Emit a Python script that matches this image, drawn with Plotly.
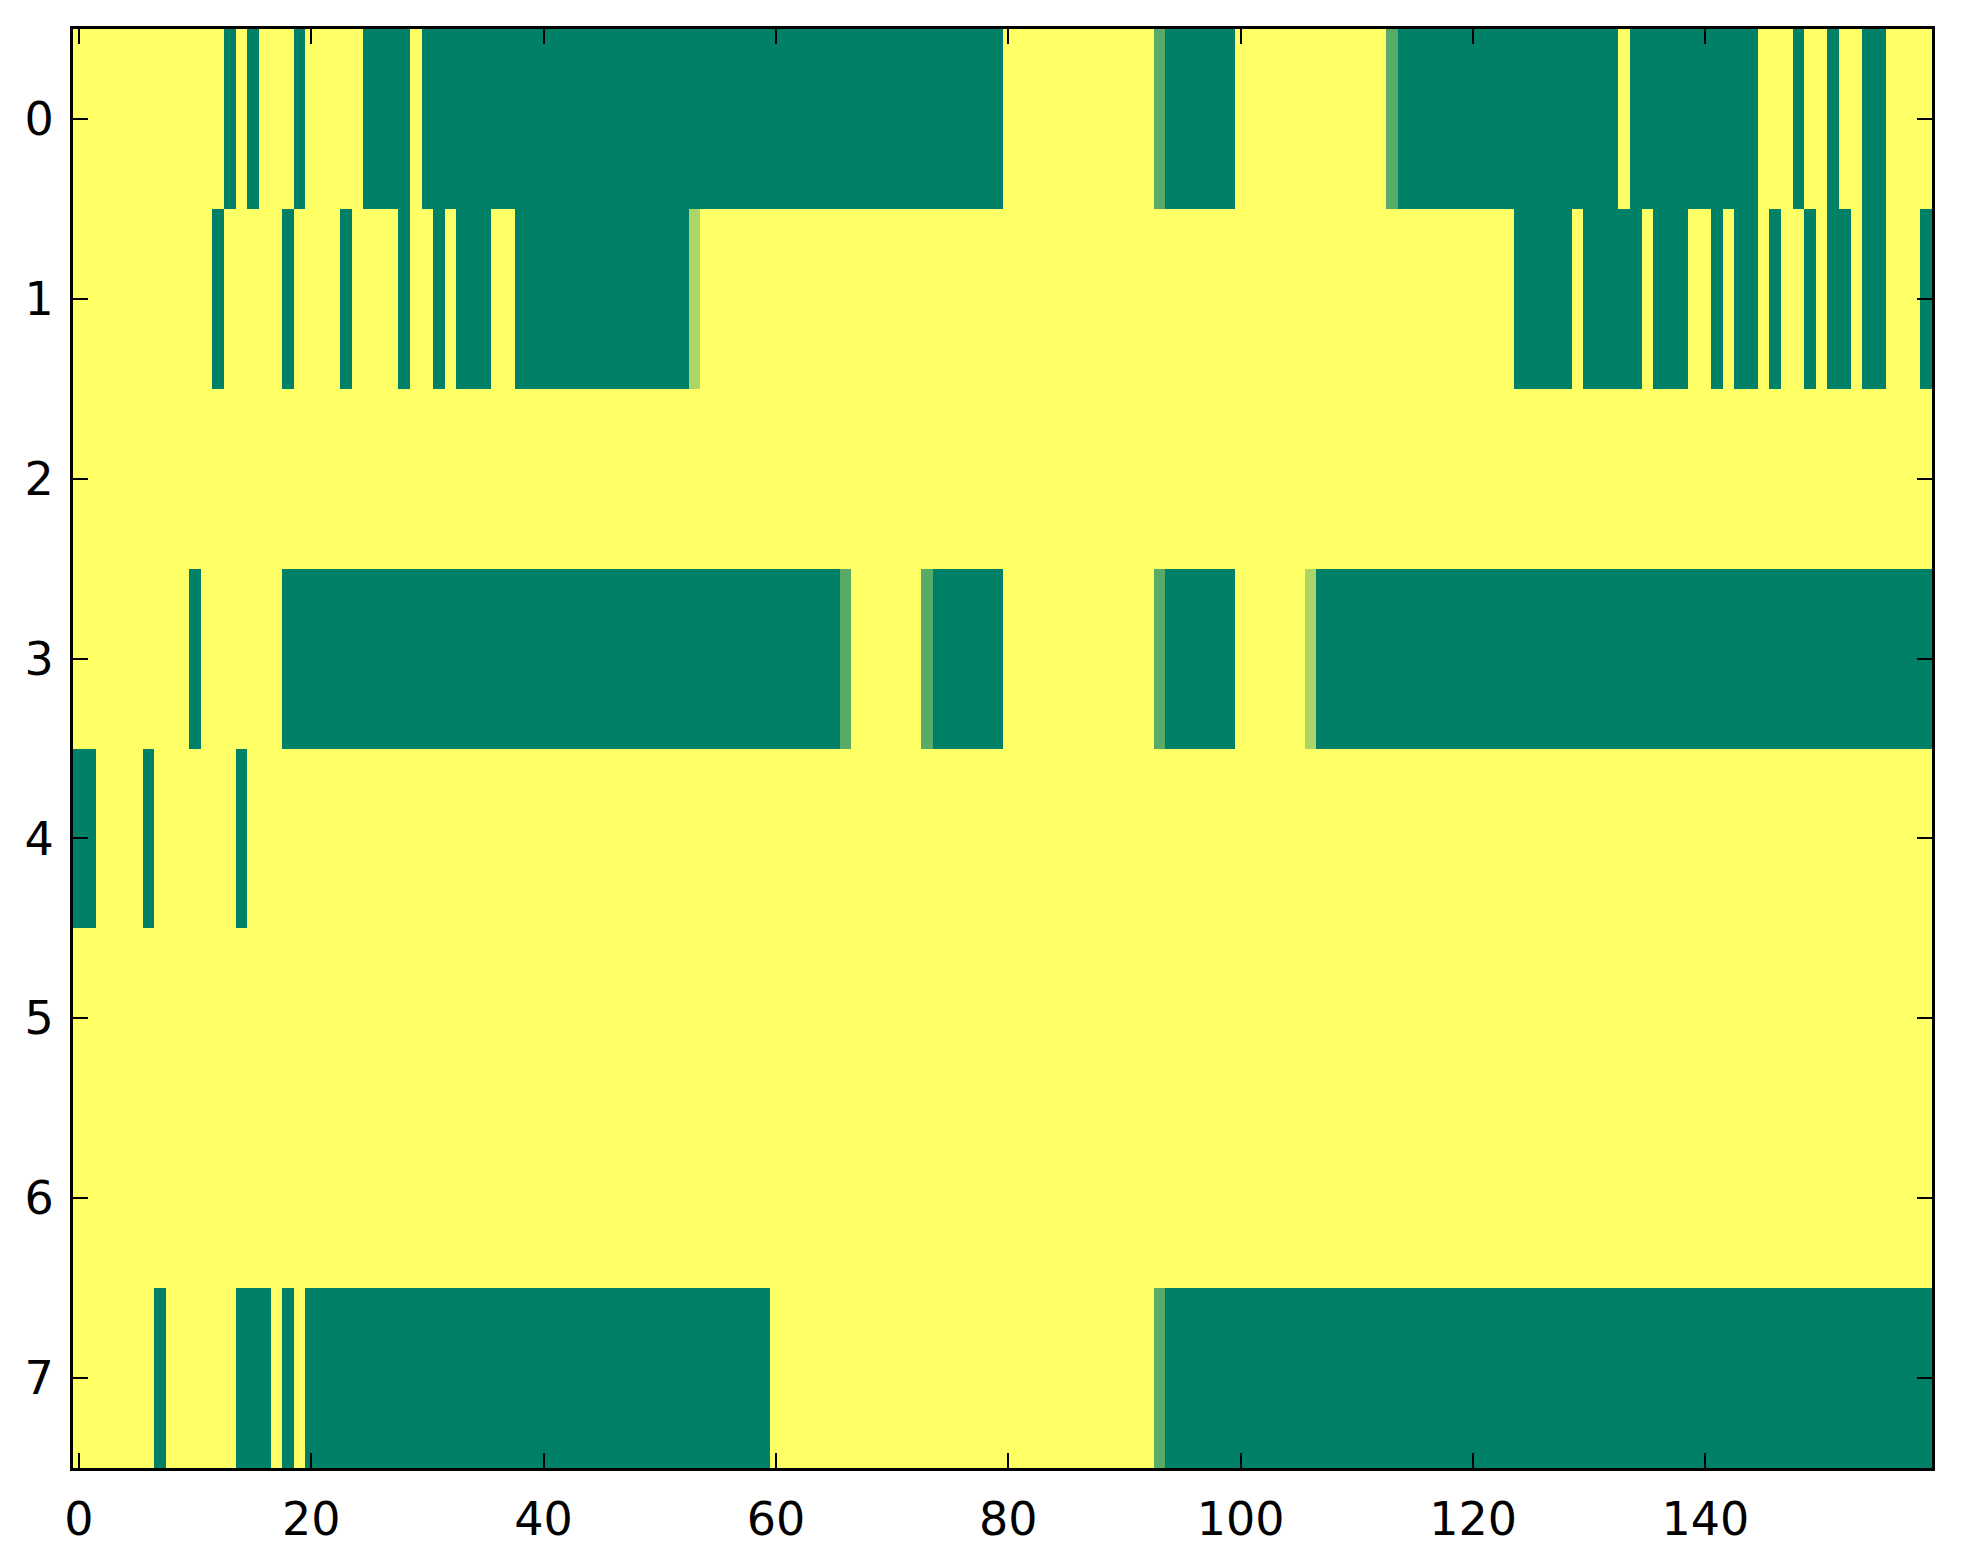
import plotly.graph_objects as go

# 8 rows x 160 columns, 0 = green end of "summer", 1 = yellow end
row0 = [1, 1, 1, 1, 1, 1, 1, 1, 1, 1, 1, 1, 1, 0, 1, 0, 1, 1, 1, 0,
        1, 1, 1, 1, 1, 0, 0, 0, 0, 1, 0, 0, 0, 0, 0, 0, 0, 0, 0, 0,
        0, 0, 0, 0, 0, 0, 0, 0, 0, 0, 0, 0, 0, 0, 0, 0, 0, 0, 0, 0,
        0, 0, 0, 0, 0, 0, 0, 0, 0, 0, 0, 0, 0, 0, 0, 0, 0, 0, 0, 0,
        1, 1, 1, 1, 1, 1, 1, 1, 1, 1, 1, 1, 1, 0.34, 0, 0, 0, 0, 0, 0,
        1, 1, 1, 1, 1, 1, 1, 1, 1, 1, 1, 1, 1, 0.34, 0, 0, 0, 0, 0, 0,
        0, 0, 0, 0, 0, 0, 0, 0, 0, 0, 0, 0, 0, 1, 0, 0, 0, 0, 0, 0,
        0, 0, 0, 0, 0, 1, 1, 1, 0, 1, 1, 0, 1, 1, 0, 0, 1, 1, 1, 1]
row1 = [1, 1, 1, 1, 1, 1, 1, 1, 1, 1, 1, 1, 0, 1, 1, 1, 1, 1, 0, 1,
        1, 1, 1, 0, 1, 1, 1, 1, 0, 1, 1, 0, 1, 0, 0, 0, 1, 1, 0, 0,
        0, 0, 0, 0, 0, 0, 0, 0, 0, 0, 0, 0, 0, 0.67, 1, 1, 1, 1, 1, 1,
        1, 1, 1, 1, 1, 1, 1, 1, 1, 1, 1, 1, 1, 1, 1, 1, 1, 1, 1, 1,
        1, 1, 1, 1, 1, 1, 1, 1, 1, 1, 1, 1, 1, 1, 1, 1, 1, 1, 1, 1,
        1, 1, 1, 1, 1, 1, 1, 1, 1, 1, 1, 1, 1, 1, 1, 1, 1, 1, 1, 1,
        1, 1, 1, 1, 0, 0, 0, 0, 0, 1, 0, 0, 0, 0, 0, 1, 0, 0, 0, 1,
        1, 0, 1, 0, 0, 1, 0, 1, 1, 0, 1, 0, 0, 1, 0, 0, 1, 1, 1, 0]
row2 = [1, 1, 1, 1, 1, 1, 1, 1, 1, 1, 1, 1, 1, 1, 1, 1, 1, 1, 1, 1,
        1, 1, 1, 1, 1, 1, 1, 1, 1, 1, 1, 1, 1, 1, 1, 1, 1, 1, 1, 1,
        1, 1, 1, 1, 1, 1, 1, 1, 1, 1, 1, 1, 1, 1, 1, 1, 1, 1, 1, 1,
        1, 1, 1, 1, 1, 1, 1, 1, 1, 1, 1, 1, 1, 1, 1, 1, 1, 1, 1, 1,
        1, 1, 1, 1, 1, 1, 1, 1, 1, 1, 1, 1, 1, 1, 1, 1, 1, 1, 1, 1,
        1, 1, 1, 1, 1, 1, 1, 1, 1, 1, 1, 1, 1, 1, 1, 1, 1, 1, 1, 1,
        1, 1, 1, 1, 1, 1, 1, 1, 1, 1, 1, 1, 1, 1, 1, 1, 1, 1, 1, 1,
        1, 1, 1, 1, 1, 1, 1, 1, 1, 1, 1, 1, 1, 1, 1, 1, 1, 1, 1, 1]
row3 = [1, 1, 1, 1, 1, 1, 1, 1, 1, 1, 0, 1, 1, 1, 1, 1, 1, 1, 0, 0,
        0, 0, 0, 0, 0, 0, 0, 0, 0, 0, 0, 0, 0, 0, 0, 0, 0, 0, 0, 0,
        0, 0, 0, 0, 0, 0, 0, 0, 0, 0, 0, 0, 0, 0, 0, 0, 0, 0, 0, 0,
        0, 0, 0, 0, 0, 0, 0.34, 1, 1, 1, 1, 1, 1, 0.34, 0, 0, 0, 0, 0, 0,
        1, 1, 1, 1, 1, 1, 1, 1, 1, 1, 1, 1, 1, 0.34, 0, 0, 0, 0, 0, 0,
        1, 1, 1, 1, 1, 1, 0.67, 0, 0, 0, 0, 0, 0, 0, 0, 0, 0, 0, 0, 0,
        0, 0, 0, 0, 0, 0, 0, 0, 0, 0, 0, 0, 0, 0, 0, 0, 0, 0, 0, 0,
        0, 0, 0, 0, 0, 0, 0, 0, 0, 0, 0, 0, 0, 0, 0, 0, 0, 0, 0, 0]
row4 = [0, 0, 1, 1, 1, 1, 0, 1, 1, 1, 1, 1, 1, 1, 0, 1, 1, 1, 1, 1,
        1, 1, 1, 1, 1, 1, 1, 1, 1, 1, 1, 1, 1, 1, 1, 1, 1, 1, 1, 1,
        1, 1, 1, 1, 1, 1, 1, 1, 1, 1, 1, 1, 1, 1, 1, 1, 1, 1, 1, 1,
        1, 1, 1, 1, 1, 1, 1, 1, 1, 1, 1, 1, 1, 1, 1, 1, 1, 1, 1, 1,
        1, 1, 1, 1, 1, 1, 1, 1, 1, 1, 1, 1, 1, 1, 1, 1, 1, 1, 1, 1,
        1, 1, 1, 1, 1, 1, 1, 1, 1, 1, 1, 1, 1, 1, 1, 1, 1, 1, 1, 1,
        1, 1, 1, 1, 1, 1, 1, 1, 1, 1, 1, 1, 1, 1, 1, 1, 1, 1, 1, 1,
        1, 1, 1, 1, 1, 1, 1, 1, 1, 1, 1, 1, 1, 1, 1, 1, 1, 1, 1, 1]
row5 = [1, 1, 1, 1, 1, 1, 1, 1, 1, 1, 1, 1, 1, 1, 1, 1, 1, 1, 1, 1,
        1, 1, 1, 1, 1, 1, 1, 1, 1, 1, 1, 1, 1, 1, 1, 1, 1, 1, 1, 1,
        1, 1, 1, 1, 1, 1, 1, 1, 1, 1, 1, 1, 1, 1, 1, 1, 1, 1, 1, 1,
        1, 1, 1, 1, 1, 1, 1, 1, 1, 1, 1, 1, 1, 1, 1, 1, 1, 1, 1, 1,
        1, 1, 1, 1, 1, 1, 1, 1, 1, 1, 1, 1, 1, 1, 1, 1, 1, 1, 1, 1,
        1, 1, 1, 1, 1, 1, 1, 1, 1, 1, 1, 1, 1, 1, 1, 1, 1, 1, 1, 1,
        1, 1, 1, 1, 1, 1, 1, 1, 1, 1, 1, 1, 1, 1, 1, 1, 1, 1, 1, 1,
        1, 1, 1, 1, 1, 1, 1, 1, 1, 1, 1, 1, 1, 1, 1, 1, 1, 1, 1, 1]
row6 = [1, 1, 1, 1, 1, 1, 1, 1, 1, 1, 1, 1, 1, 1, 1, 1, 1, 1, 1, 1,
        1, 1, 1, 1, 1, 1, 1, 1, 1, 1, 1, 1, 1, 1, 1, 1, 1, 1, 1, 1,
        1, 1, 1, 1, 1, 1, 1, 1, 1, 1, 1, 1, 1, 1, 1, 1, 1, 1, 1, 1,
        1, 1, 1, 1, 1, 1, 1, 1, 1, 1, 1, 1, 1, 1, 1, 1, 1, 1, 1, 1,
        1, 1, 1, 1, 1, 1, 1, 1, 1, 1, 1, 1, 1, 1, 1, 1, 1, 1, 1, 1,
        1, 1, 1, 1, 1, 1, 1, 1, 1, 1, 1, 1, 1, 1, 1, 1, 1, 1, 1, 1,
        1, 1, 1, 1, 1, 1, 1, 1, 1, 1, 1, 1, 1, 1, 1, 1, 1, 1, 1, 1,
        1, 1, 1, 1, 1, 1, 1, 1, 1, 1, 1, 1, 1, 1, 1, 1, 1, 1, 1, 1]
row7 = [1, 1, 1, 1, 1, 1, 1, 0, 1, 1, 1, 1, 1, 1, 0, 0, 0, 1, 0, 1,
        0, 0, 0, 0, 0, 0, 0, 0, 0, 0, 0, 0, 0, 0, 0, 0, 0, 0, 0, 0,
        0, 0, 0, 0, 0, 0, 0, 0, 0, 0, 0, 0, 0, 0, 0, 0, 0, 0, 0, 0,
        1, 1, 1, 1, 1, 1, 1, 1, 1, 1, 1, 1, 1, 1, 1, 1, 1, 1, 1, 1,
        1, 1, 1, 1, 1, 1, 1, 1, 1, 1, 1, 1, 1, 0.34, 0, 0, 0, 0, 0, 0,
        0, 0, 0, 0, 0, 0, 0, 0, 0, 0, 0, 0, 0, 0, 0, 0, 0, 0, 0, 0,
        0, 0, 0, 0, 0, 0, 0, 0, 0, 0, 0, 0, 0, 0, 0, 0, 0, 0, 0, 0,
        0, 0, 0, 0, 0, 0, 0, 0, 0, 0, 0, 0, 0, 0, 0, 0, 0, 0, 0, 0]

rows = [row0, row1, row2, row3, row4, row5, row6, row7]
x_ticks = [0, 20, 40, 60, 80, 100, 120, 140]
y_ticks = [0, 1, 2, 3, 4, 5, 6, 7]

# matplotlib "summer" colormap
summer = [[0.0, "rgb(0,128,102)"], [1.0, "rgb(255,255,102)"]]

fig = go.Figure(go.Heatmap(
    z=rows,
    x=list(range(len(row0))),
    y=y_ticks,
    colorscale=summer,
    zmin=0, zmax=1,
    showscale=False,
))

axis_style = dict(
    showgrid=False, zeroline=False,
    showline=True, linecolor="black", linewidth=3, mirror="ticks",
    ticks="inside", ticklen=15, tickwidth=2, tickcolor="black",
)

fig.update_xaxes(range=[-0.5, 159.5], tickvals=x_ticks,
                 ticklabelstandoff=9, **axis_style)
fig.update_yaxes(range=[7.5, -0.5], tickvals=y_ticks,
                 ticklabelstandoff=7, **axis_style)

# page body adds ~8px offset, so margins are trimmed on left/top
fig.update_layout(
    width=1963, height=1564,
    margin=dict(l=65, r=39, t=21, b=104),
    paper_bgcolor="white", plot_bgcolor="white",
    font=dict(family="DejaVu Sans", size=46, color="black"),
)

fig.write_html("out.html")
